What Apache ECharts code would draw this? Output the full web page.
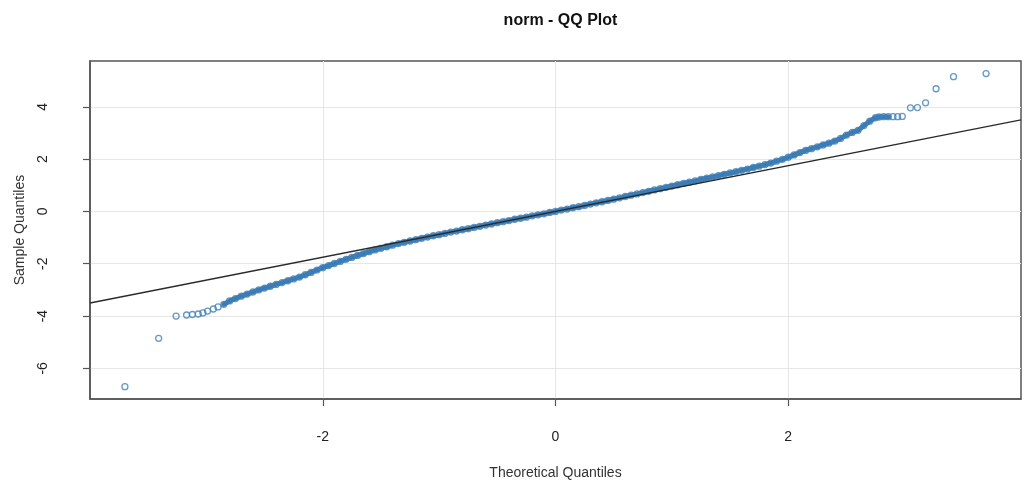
<!DOCTYPE html>
<html>
<head>
<meta charset="utf-8">
<script src="https://cdn.jsdelivr.net/npm/echarts@6/dist/echarts.min.js"></script>
<style>html,body{margin:0;padding:0;background:#fff;}#c{width:1036px;height:488px;}</style>
</head>
<body>
<div id="c"></div>
<script>
// Theoretical quantiles (x) and sample quantiles (y)
const theoX = [
 -3.70,-3.41,-3.26,-3.17,-3.12,-3.07,-3.03,-2.99,-2.94,-2.90,
 -2.85,-2.80,-2.75,-2.70,-2.65,-2.60,-2.55,-2.50,-2.45,-2.40,-2.35,-2.30,-2.25,-2.20,-2.15,-2.10,-2.05,
 -2.00,-1.95,-1.90,-1.85,-1.80,-1.75,-1.70,-1.65,-1.60,-1.55,-1.50,-1.45,-1.40,-1.35,-1.30,-1.25,-1.20,-1.15,-1.10,-1.05,
 -1.00,-0.95,-0.90,-0.85,-0.80,-0.75,-0.70,-0.65,-0.60,-0.55,-0.50,-0.45,-0.40,-0.35,-0.30,-0.25,-0.20,-0.15,-0.10,-0.05,
 0.00,0.05,0.10,0.15,0.20,0.25,0.30,0.35,0.40,0.45,0.50,0.55,0.60,0.65,0.70,0.75,0.80,0.85,0.90,0.95,
 1.00,1.05,1.10,1.15,1.20,1.25,1.30,1.35,1.40,1.45,1.50,1.55,1.60,1.65,1.70,1.75,1.80,1.85,1.90,1.95,
 2.00,2.05,2.10,2.15,2.20,2.25,2.30,2.35,2.40,2.45,2.50,2.55,2.60,2.65,2.70,2.75,
 2.78,2.82,2.86,2.90,2.94,2.98,3.05,3.11,3.18,3.27,3.42,3.70
];
const sampleY = [
 -6.70,-4.85,-4.00,-3.96,-3.94,-3.92,-3.88,-3.81,-3.73,-3.65,
 -3.55,-3.42,-3.33,-3.24,-3.16,-3.08,-3.00,-2.93,-2.86,-2.79,-2.72,-2.65,-2.58,-2.51,-2.42,-2.33,-2.24,
 -2.15,-2.07,-1.99,-1.91,-1.83,-1.76,-1.68,-1.61,-1.54,-1.47,-1.41,-1.35,-1.29,-1.23,-1.18,-1.13,-1.08,-1.03,-0.98,-0.93,
 -0.89,-0.84,-0.79,-0.75,-0.70,-0.66,-0.61,-0.57,-0.52,-0.48,-0.43,-0.39,-0.35,-0.30,-0.26,-0.22,-0.17,-0.13,-0.09,-0.04,
 0.00,0.05,0.09,0.14,0.18,0.23,0.28,0.33,0.37,0.42,0.47,0.52,0.57,0.62,0.67,0.72,0.77,0.82,0.87,0.92,
 0.97,1.02,1.07,1.12,1.17,1.22,1.27,1.32,1.37,1.42,1.47,1.52,1.57,1.62,1.68,1.73,1.79,1.85,1.92,1.99,
 2.07,2.16,2.25,2.33,2.40,2.47,2.54,2.61,2.69,2.79,2.92,3.02,3.10,3.28,3.45,3.58,
 3.61,3.62,3.62,3.62,3.62,3.63,3.96,3.97,4.15,4.69,5.15,5.27
];
// Reference line (qqline) end points
const refX = [-4.0, 4.0];
const refY = [-3.5, 3.5];
// Tick labels
const xTicks = [-2, 0, 2];
const yTicks = [-6, -4, -2, 0, 2, 4];

const pts = theoX.map((x, i) => [x, sampleY[i]]);
// the densely overplotted middle run of points (circles overlap into a solid band)
const densePts = pts.filter(p => p[0] >= -2.86 && p[0] <= 2.87);
const refPts = refX.map((x, i) => [x, refY[i]]);

const font = 'Liberation Sans, Arial, Helvetica, sans-serif';
const chart = echarts.init(document.getElementById('c'), null, {renderer: 'canvas'});
chart.setOption({
  animation: false,
  backgroundColor: '#ffffff',
  title: {
    text: 'norm - QQ Plot',
    left: 555.5, top: 8, textAlign: 'center',
    textStyle: {fontFamily: font, fontWeight: 'bold', fontSize: 16, color: '#111'}
  },
  grid: {left: 90, right: 15, top: 61, bottom: 89, show: true, borderColor: '#555', borderWidth: 1.5, containLabel: false},
  xAxis: {
    type: 'value', min: -4, max: 4, interval: 2,
    name: 'Theoretical Quantiles', nameLocation: 'middle', nameGap: 67,
    nameTextStyle: {fontFamily: font, fontSize: 14, color: '#333'},
    axisLine: {show: true, onZero: false, lineStyle: {color: '#555', width: 1.5}},
    axisTick: {show: true, length: 7, customValues: xTicks, lineStyle: {color: '#555', width: 1.2}},
    axisLabel: {customValues: xTicks, margin: 31, fontFamily: font, fontSize: 14, color: '#222'},
    splitLine: {show: true, lineStyle: {color: '#e6e6e6', width: 1}}
  },
  yAxis: {
    type: 'value', min: -7.17, max: 5.75,
    name: 'Sample Quantiles', nameLocation: 'middle', nameGap: 63, nameRotate: 90,
    nameTextStyle: {fontFamily: font, fontSize: 14, color: '#333'},
    axisLine: {show: true, onZero: false, lineStyle: {color: '#555', width: 1.5}},
    axisTick: {show: true, length: 7, customValues: yTicks, lineStyle: {color: '#555', width: 1.2}},
    axisLabel: {customValues: yTicks, rotate: 90, margin: 40, fontFamily: font, fontSize: 14, color: '#222'},
    splitLine: {show: true, lineStyle: {color: '#e6e6e6', width: 1}}
  },
  series: [
    {
      type: 'line', data: densePts, showSymbol: false, symbol: 'none', silent: true,
      lineStyle: {color: '#3c7cb4', width: 5, cap: 'round', join: 'round'}, z: 2
    },
    {
      type: 'scatter', data: pts, symbol: 'circle', symbolSize: 6,
      itemStyle: {color: 'rgba(255,255,255,0)', borderColor: '#3f80b8', borderWidth: 1.3},
      z: 3
    },
    {
      type: 'line', data: refPts, showSymbol: false, symbol: 'none',
      lineStyle: {color: '#2a2a2a', width: 1.3}, z: 4
    }
  ]
});
</script>
</body>
</html>
